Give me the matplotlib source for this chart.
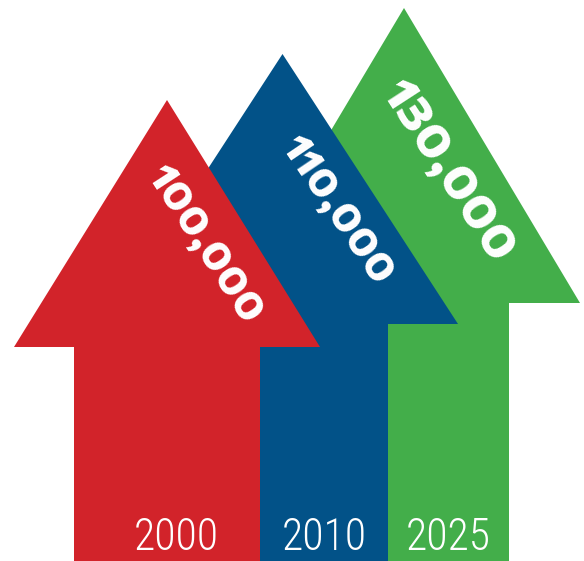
import matplotlib.pyplot as plt
from matplotlib.patches import Polygon

years = ["2000", "2010", "2025"]
values = [100000, 110000, 130000]
colors = ["#D2232A", "#025288", "#43AE4A"]

# arrow geometry in pixels (apex, head base corners, shaft edges)
apex_x = [167, 282.5, 404]
apex_y = [100, 54, 8]
head_l = [14, 107, 228]
head_r = [320, 458, 580]
base_y = [347, 324, 303]
shaft_l = [74, 176, 298]
shaft_r = [260, 388, 509]
label_xy = [(204, 245), (337, 210), (448, 172)]
label_size = [27.5, 27.5, 32.5]
label_rot = [-57, -56, -57]
year_x = [176.5, 324, 448]

fig = plt.figure(figsize=(5.84, 5.61), dpi=100)
ax = fig.add_axes([0, 0, 1, 1])
ax.set_xlim(0, 584)
ax.set_ylim(561, 0)
ax.axis("off")

# back to front: green, blue, red
for i in [2, 1, 0]:
    pts = [(shaft_l[i], 561), (shaft_l[i], base_y[i]), (head_l[i], base_y[i]),
           (apex_x[i], apex_y[i]), (head_r[i], base_y[i]),
           (shaft_r[i], base_y[i]), (shaft_r[i], 561)]
    ax.add_patch(Polygon(pts, closed=True, facecolor=colors[i], edgecolor="none", zorder=3 - i))
    ax.text(label_xy[i][0], label_xy[i][1], f"{values[i]:,}", color="white",
            fontsize=label_size[i], fontweight=800,
            family=["Encode Sans Expanded", "DejaVu Sans"],
            rotation=label_rot[i], rotation_mode="anchor", ha="center", va="center",
            zorder=10)
    ax.text(year_x[i], 550, years[i], color="white", fontsize=31.5, fontweight=300,
            family=["Roboto Condensed", "DejaVu Sans"], ha="center", va="baseline",
            zorder=10)

fig.savefig("out.png", dpi=100)
